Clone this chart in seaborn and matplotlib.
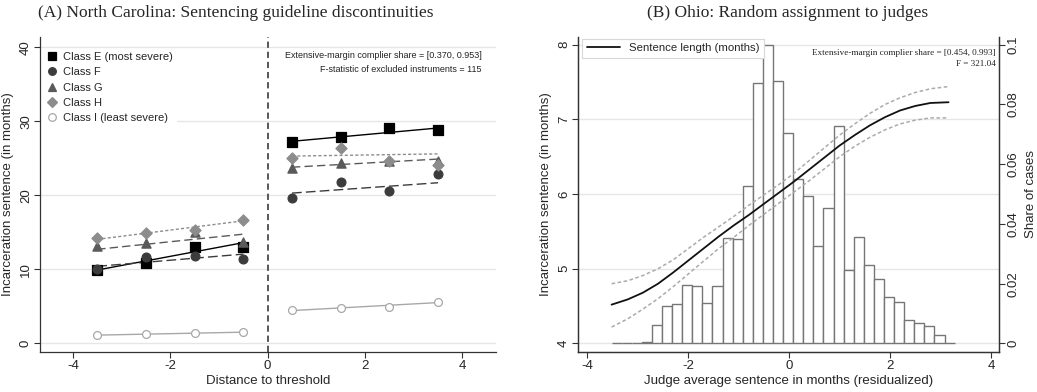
import numpy as np
import pandas as pd
import matplotlib
matplotlib.use("Agg")
import matplotlib.pyplot as plt
import matplotlib.transforms as mtransforms
from matplotlib.lines import Line2D
import seaborn as sns

# ---------------- Panel A data ----------------
distance = [-3.5, -2.5, -1.5, -0.5, 0.5, 1.5, 2.5, 3.5]
class_E = [9.9, 10.9, 13.0, 13.0, 27.2, 27.9, 29.1, 28.8]
class_F = [10.0, 11.7, 11.8, 11.4, 19.6, 21.8, 20.6, 22.9]
class_G = [13.1, 13.5, 15.0, 13.7, 23.7, 24.4, 24.7, 24.7]
class_H = [14.2, 14.9, 15.3, 16.6, 25.1, 26.4, 24.7, 24.1]
class_I = [1.1, 1.2, 1.35, 1.5, 4.45, 4.76, 4.9, 5.6]

fit_x = [-3.5, -0.5, 0.5, 3.5]
fit_E = [9.9, 13.6, 27.3, 29.1]
fit_F = [10.4, 12.05, 20.3, 21.7]
fit_G = [12.7, 14.75, 23.8, 24.9]
fit_H = [14.05, 16.55, 25.3, 25.6]
fit_I = [1.1, 1.5, 4.42, 5.5]

class_labels = ["Class E (most severe)", "Class F", "Class G", "Class H",
                "Class I (least severe)"]
nc_notes = ["Extensive-margin complier share = [0.370, 0.953]",
            "F-statistic of excluded instruments = 115"]

# ---------------- Panel B data ----------------
judge_x = [-3.52, -3.2, -2.9, -2.6, -2.3, -2.0, -1.7, -1.4, -1.1, -0.8, -0.5,
           -0.2, 0.1, 0.4, 0.7, 1.0, 1.3, 1.6, 1.9, 2.2, 2.5, 2.8, 3.16]
sentence_fit = [4.52, 4.59, 4.68, 4.80, 4.95, 5.11, 5.27, 5.43, 5.58, 5.72, 5.87,
                6.02, 6.17, 6.33, 6.49, 6.65, 6.79, 6.92, 7.03, 7.12, 7.18, 7.22, 7.23]
sentence_upper = [4.80, 4.84, 4.91, 5.00, 5.12, 5.27, 5.42, 5.56, 5.70, 5.85, 5.99,
                  6.13, 6.28, 6.45, 6.62, 6.79, 6.94, 7.08, 7.20, 7.29, 7.36, 7.41, 7.44]
sentence_lower = [4.22, 4.33, 4.46, 4.60, 4.76, 4.93, 5.10, 5.27, 5.42, 5.58, 5.73,
                  5.88, 6.03, 6.18, 6.34, 6.50, 6.64, 6.76, 6.86, 6.94, 6.99, 7.02, 7.02]

hist_first_edge = -3.52
hist_bin_width = 0.2
hist_share = [0.0, 0.0, 0.0003, 0.0006, 0.0061, 0.0126, 0.0132, 0.0197, 0.0191,
              0.0134, 0.0191, 0.0353, 0.0349, 0.0526, 0.0871, 0.1000, 0.0879,
              0.0705, 0.0551, 0.0492, 0.0325, 0.0454, 0.0727, 0.0247, 0.0356,
              0.0264, 0.0217, 0.0154, 0.0140, 0.0080, 0.0067, 0.0057, 0.0027,
              0.0003]
oh_notes = ["Extensive-margin complier share = [0.454, 0.993]", "F = 321.04"]

# ---------------- style ----------------
sns.set_theme(style="white")
plt.rcParams["font.family"] = ["Liberation Sans", "DejaVu Sans"]
plt.rcParams["axes.unicode_minus"] = False
plt.rcParams["lines.scale_dashes"] = False

W, H = 1037, 392
fig = plt.figure(figsize=(W / 100, H / 100), dpi=100)
fig.patch.set_facecolor("white")

def fx(px):
    return px / W

def fy(py):
    return 1 - py / H

TICK_FS = 9.5
LAB_FS = 9.5
GRID_C = "#e6e6e6"
AX_C = "#333333"

# ================= Panel A =================
ax = fig.add_axes([fx(40.3), fy(351.7), fx(496 - 40.3), (351.7 - 37) / H])
ax.set_xlim(-4.67, 4.69)
ax.set_ylim(-1.14, 41.4)
for v in [0, 10, 20, 30, 40]:
    ax.axhline(v, color=GRID_C, lw=1.0, zorder=0)
ax.axvline(0, color="#4a4a4a", lw=1.3, dashes=(4.5, 2.8), zorder=1)

classes = [class_E, class_F, class_G, class_H, class_I]
fits = [fit_E, fit_F, fit_G, fit_H, fit_I]
markers = ["s", "o", "^", "D", "o"]
mcolors = ["#000000", "#3c3c3c", "#5a5a5a", "#8c8c8c", "#ffffff"]
medges = ["#000000", "#3c3c3c", "#5a5a5a", "#8c8c8c", "#a8a8a8"]
msizes = [44, 40, 44, 32, 32]
lcolors = ["#000000", "#3c3c3c", "#5a5a5a", "#8c8c8c", "#a8a8a8"]
ldashes = [None, (7, 3), (6, 3), (2.2, 1.6), None]

for vals, fit, mk, mc, me, ms, lc, ld in zip(classes, fits, markers, mcolors,
                                             medges, msizes, lcolors, ldashes):
    for seg in (slice(0, 2), slice(2, 4)):
        kw = dict(color=lc, lw=1.0, zorder=2)
        if ld is not None:
            kw["dashes"] = ld
        ax.plot(fit_x[seg], fit[seg], **kw)
    sns.scatterplot(x=distance, y=vals, marker=mk, color=mc, edgecolor=me,
                    linewidth=0.9, s=ms, ax=ax, zorder=3, legend=False)

handles = []
for mk, mc, me in zip(markers, mcolors, medges):
    handles.append(Line2D([], [], linestyle="none", marker=mk, markersize=5.5,
                          markerfacecolor=mc, markeredgecolor=me, markeredgewidth=0.9))
leg = ax.legend(handles, class_labels, loc="upper left",
                bbox_to_anchor=(fx(42), fy(48.5)), bbox_transform=fig.transFigure,
                frameon=True, facecolor="white", edgecolor="white", framealpha=1,
                fontsize=8.0, handletextpad=0.4, labelspacing=0.48, borderpad=0.3,
                handlelength=1.2, borderaxespad=0)
leg.set_zorder(4)

for i, t in enumerate(nc_notes):
    fig.text(fx(482), fy(55 + 15 * i), t, ha="right", va="center", fontsize=6.5,
             color="#222222")

ax.set_xticks([-4, -2, 0, 2, 4])
ax.set_yticks([0, 10, 20, 30, 40])
ax.tick_params(axis="both", which="major", direction="out", length=4, width=0.8,
               color=AX_C, labelsize=TICK_FS, bottom=True, left=True, pad=2)
for lab in ax.get_yticklabels():
    lab.set_rotation(90)
    lab.set_va("center")
ax.set_xlabel("Distance to threshold", fontsize=LAB_FS, labelpad=2)
ax.set_ylabel("Incarceration sentence (in months)", fontsize=LAB_FS, labelpad=4)
sns.despine(ax=ax)
for sp in ["left", "bottom"]:
    ax.spines[sp].set_color(AX_C)
    ax.spines[sp].set_linewidth(0.9)
ax.grid(False)

fig.text(fx(236), fy(13), "(A) North Carolina: Sentencing guideline discontinuities",
         ha="center", va="center", fontsize=12.5, family=["Liberation Serif"])

# ================= Panel B =================
axb = fig.add_axes([fx(578.3), fy(351.7), fx(999 - 578.3), (351.7 - 36.5) / H])
axh = axb.twinx()
ylo, yhi = 3.89, 8.11
axb.set_ylim(ylo, yhi)
axh.set_ylim((ylo - 4) * 0.025, (yhi - 4) * 0.025)
axb.set_xlim(-4.18, 4.16)

axb.set_zorder(axh.get_zorder() + 1)
axb.patch.set_visible(False)
axh.patch.set_visible(True)
axh.patch.set_facecolor("white")

blend = mtransforms.blended_transform_factory(axh.transAxes, axb.transData)
for v in [4, 5, 6, 7, 8]:
    axh.plot([0, 1], [v, v], transform=blend, color=GRID_C, lw=1.0, zorder=0)

edges = [hist_first_edge + hist_bin_width * k for k in range(len(hist_share) + 1)]
centers = [hist_first_edge + hist_bin_width * (k + 0.5) for k in range(len(hist_share))]
sns.histplot(x=centers, weights=hist_share, bins=edges, stat="count", ax=axh,
             color="white", edgecolor="#767676", linewidth=1.0, alpha=1, zorder=1)

sns.lineplot(x=judge_x, y=sentence_upper, ax=axb, color="#ababab", lw=1.1,
             dashes=(2.6, 1.8), zorder=3)
sns.lineplot(x=judge_x, y=sentence_lower, ax=axb, color="#ababab", lw=1.1,
             dashes=(2.6, 1.8), zorder=3)
sns.lineplot(x=judge_x, y=sentence_fit, ax=axb, color="#111111", lw=1.3, zorder=4,
             label="Sentence length (months)")
legb = axb.legend(loc="upper left", bbox_to_anchor=(fx(582), fy(38.5)),
                  bbox_transform=fig.transFigure, frameon=True, fancybox=False,
                  facecolor="white", edgecolor="#d8d8d8", framealpha=1, fontsize=8.2,
                  handlelength=2.9, handletextpad=0.8, borderpad=0.4, borderaxespad=0)
legb.get_frame().set_linewidth(0.8)

for i, t in enumerate(oh_notes):
    fig.text(fx(996), fy(52.7 + 11.5 * i), t, ha="right", va="center", fontsize=6.6,
             family=["Liberation Serif"], color="#222222")

axb.set_xticks([-4, -2, 0, 2, 4])
axb.set_yticks([4, 5, 6, 7, 8])
axh.set_yticks([0, 0.02, 0.04, 0.06, 0.08, 0.1])
axh.set_yticklabels(["0", "0.02", "0.04", "0.06", "0.08", "0.1"])
for a in (axb, axh):
    a.tick_params(axis="both", which="major", direction="out", length=4, width=0.8,
                  color=AX_C, labelsize=TICK_FS, pad=2)
axb.tick_params(bottom=True, left=True)
axh.tick_params(right=True)
for lab in axb.get_yticklabels():
    lab.set_rotation(90)
    lab.set_va("center")
for lab in axh.get_yticklabels():
    lab.set_rotation(90)
    lab.set_va("center")
axb.set_xlabel("Judge average sentence in months (residualized)", fontsize=LAB_FS,
               labelpad=2)
axb.set_ylabel("Incarceration sentence (in months)", fontsize=LAB_FS, labelpad=4)
axh.set_ylabel("Share of cases", fontsize=LAB_FS, rotation=90, labelpad=4)
axb.grid(False)
axh.grid(False)
for a in (axb, axh):
    a.spines["top"].set_visible(False)
    for sp in ["left", "bottom", "right"]:
        a.spines[sp].set_color(AX_C)
        a.spines[sp].set_linewidth(0.9)

fig.text(fx(788), fy(13), "(B) Ohio: Random assignment to judges",
         ha="center", va="center", fontsize=12.5, family=["Liberation Serif"])

fig.savefig("out.png", dpi=100, facecolor="white")
